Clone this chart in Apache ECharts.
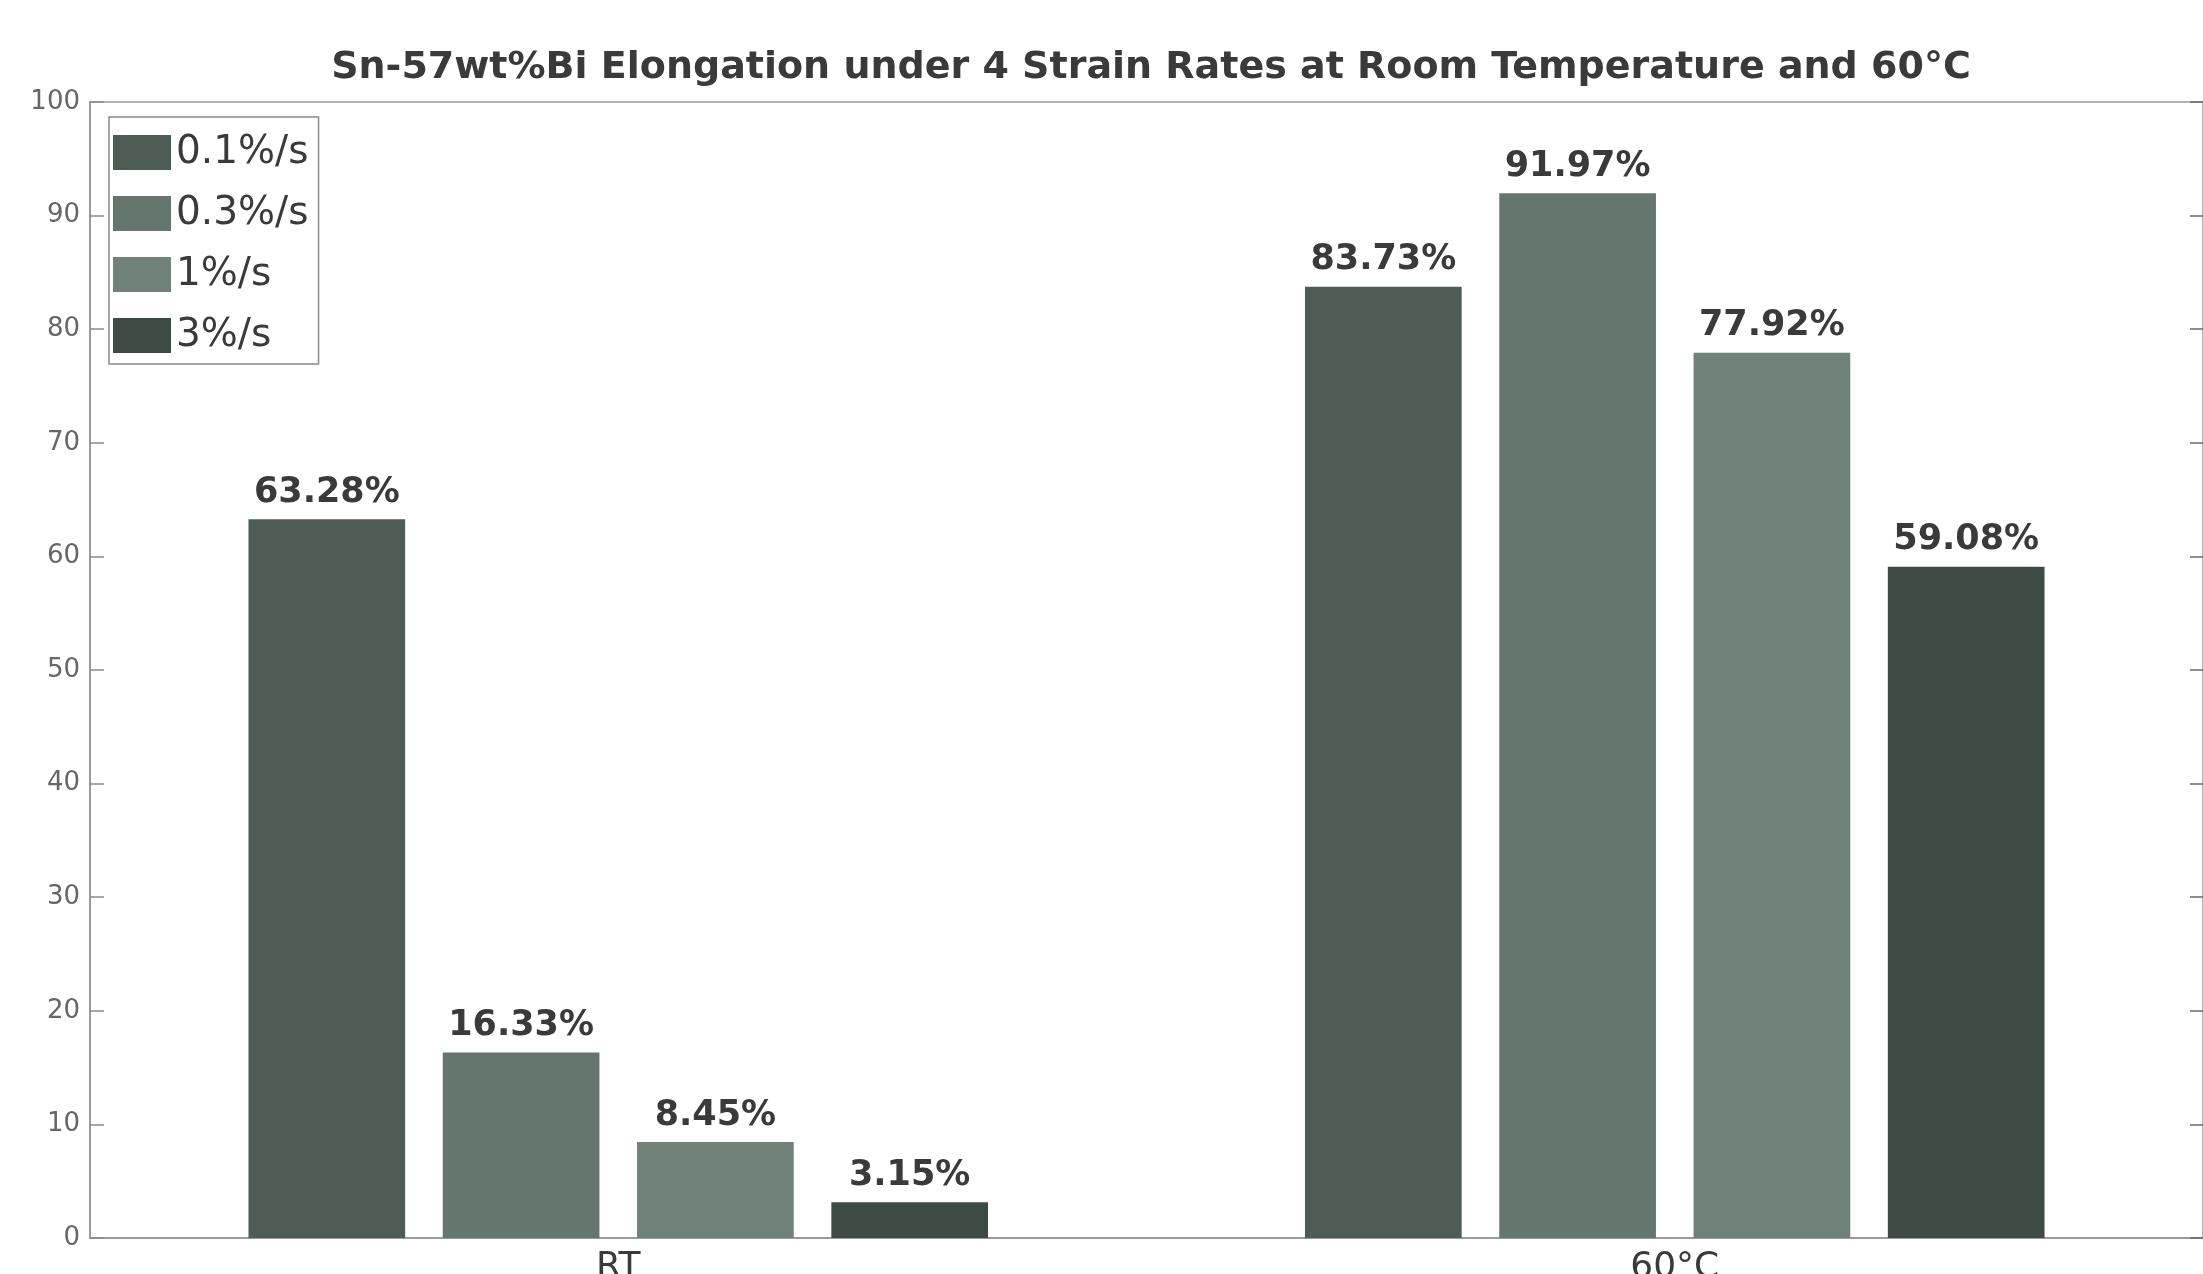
<!DOCTYPE html>
<html>
<head>
<meta charset="utf-8">
<script src="https://cdn.jsdelivr.net/npm/echarts@6/dist/echarts.min.js"></script>
<style>
html,body{margin:0;padding:0;background:#fff;}
#chart{width:2203px;height:1274px;}
</style>
</head>
<body>
<div id="chart"></div>
<script>
const categories = ['RT', '60°C'];
const seriesNames = ['0.1%/s', '0.3%/s', '1%/s', '3%/s'];
const rate01 = [63.28, 83.73];
const rate03 = [16.33, 91.97];
const rate1 = [8.45, 77.92];
const rate3 = [3.15, 59.08];
const yTicks = [0, 10, 20, 30, 40, 50, 60, 70, 80, 90, 100];
const titleText = 'Sn-57wt%Bi Elongation under 4 Strain Rates at Room Temperature and 60°C';

const colors = ['#4d5d55', '#64766d', '#6f8179', '#3e4b44'];
const allValues = [rate01, rate03, rate1, rate3];

const chart = echarts.init(document.getElementById('chart'), null, {renderer: 'canvas'});

const series = seriesNames.map((name, i) => ({
  name: name,
  type: 'bar',
  data: allValues[i],
  barCategoryGap: '30%',
  barGap: '24%',
  itemStyle: {color: colors[i]},
  label: {
    show: true,
    position: 'top',
    distance: 9,
    formatter: p => p.value.toFixed(2) + '%',
    fontFamily: 'DejaVu Sans',
    fontWeight: 'bold',
    fontSize: 35,
    color: '#3a3a3a'
  }
}));

chart.setOption({
  animation: false,
  backgroundColor: '#ffffff',
  title: {
    text: titleText,
    left: 1146,
    textAlign: 'center',
    top: 44,
    textStyle: {
      fontFamily: 'DejaVu Sans',
      fontWeight: 'bold',
      fontSize: 38,
      color: '#3a3a3a'
    }
  },
  legend: {
    data: seriesNames,
    orient: 'vertical',
    left: 109,
    top: 117,
    padding: [16, 10, 9, 4],
    itemGap: 22,
    itemWidth: 58,
    itemHeight: 35,
    icon: 'rect',
    backgroundColor: '#ffffff',
    borderColor: '#8a8a8a',
    borderWidth: 1.5,
    borderRadius: 0,
    textStyle: {
      fontFamily: 'DejaVu Sans',
      fontSize: 39,
      color: '#3a3a3a'
    }
  },
  grid: {
    left: 90,
    right: 0,
    top: 102,
    bottom: 36,
    outerBoundsMode: 'none',
    containLabel: false,
    show: true,
    borderColor: '#9a9a9a',
    borderWidth: 1.5,
    backgroundColor: 'transparent'
  },
  xAxis: {
    type: 'category',
    data: categories,
    axisLine: {show: true, lineStyle: {color: '#9a9a9a', width: 2}},
    axisTick: {show: false},
    axisLabel: {
      fontFamily: 'DejaVu Sans',
      fontSize: 36,
      color: '#3a3a3a',
      margin: 12
    },
    splitLine: {show: false}
  },
  yAxis: [{
    type: 'value',
    min: 0,
    max: 100,
    interval: 10,
    position: 'left',
    axisLine: {show: true, lineStyle: {color: '#9a9a9a', width: 2}},
    axisTick: {show: true, inside: true, length: 14, lineStyle: {color: '#8a8a8a', width: 1.5}},
    axisLabel: {
      fontFamily: 'DejaVu Sans',
      fontSize: 26,
      color: '#666666',
      margin: 10,
      formatter: v => yTicks.indexOf(v) >= 0 ? String(v) : ''
    },
    splitLine: {show: false}
  }, {
    type: 'value',
    min: 0,
    max: 100,
    interval: 10,
    position: 'right',
    axisLine: {show: false},
    axisTick: {show: true, inside: true, length: 13, lineStyle: {color: '#6a6a6a', width: 1.5}},
    axisLabel: {show: false},
    splitLine: {show: false}
  }],
  series: series
});
</script>
</body>
</html>
